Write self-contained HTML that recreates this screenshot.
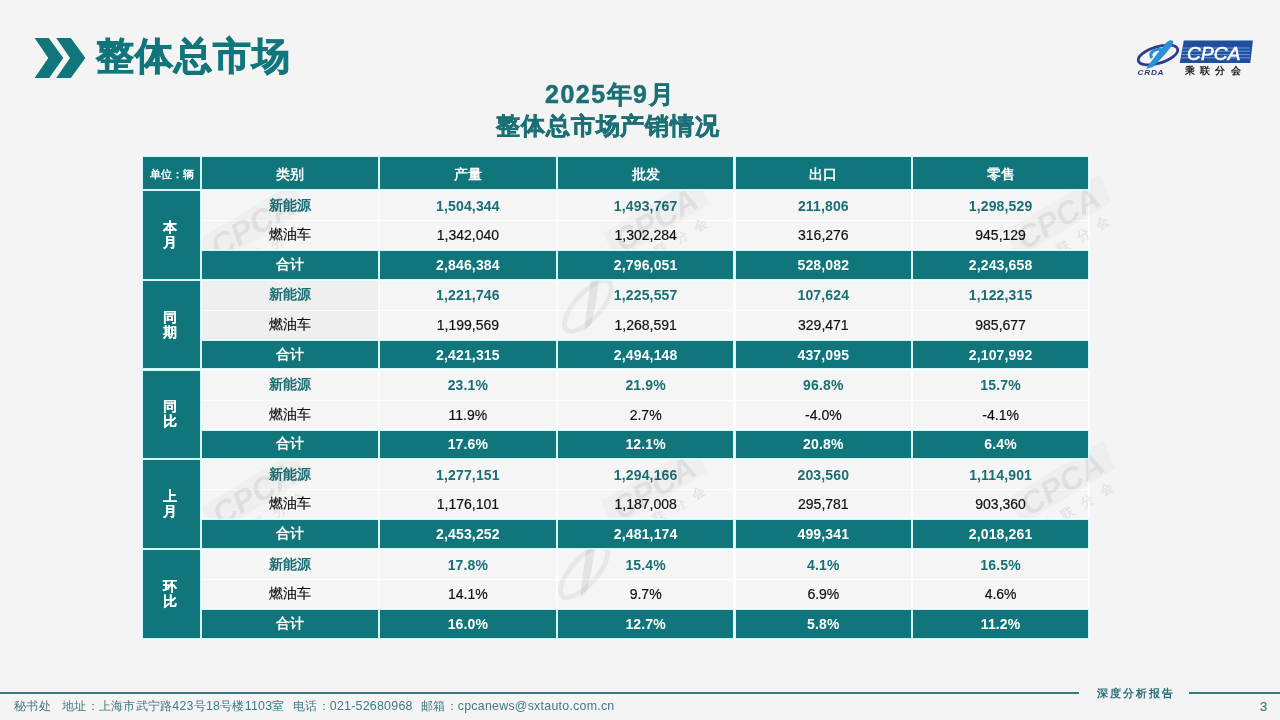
<!DOCTYPE html>
<html><head><meta charset="utf-8">
<style>
html,body{margin:0;padding:0;}
body{width:1280px;height:720px;position:relative;overflow:hidden;background:#f4f4f4;font-family:"Liberation Sans",sans-serif;}
.abs{position:absolute;white-space:nowrap;}
.tb{position:absolute;background:#fafefe;}
.th,.gl,.td{position:absolute;display:flex;align-items:center;justify-content:center;text-align:center;box-sizing:border-box;white-space:nowrap;}
.th,.gl,.r3{box-shadow:0 0 0 1.2px #d2f8f8;}
.th{background:#10767c;color:#fff;font-weight:bold;font-size:14px;padding-top:5px;}
.th.unit{font-size:11px;padding-top:3px;}
.gl{background:#10767c;color:#fff;font-weight:bold;font-size:14px;line-height:15px;padding-right:4px;text-shadow:0.5px 0 0 #fff;}
.td{font-size:14px;}
.r1{background:#f5f5f5;color:#1a6f75;font-weight:bold;letter-spacing:0.15px;}
.r2{background:#f5f5f5;color:#111;-webkit-text-stroke:0.2px #111;}
.r3{background:#10767c;color:#fff;font-weight:bold;letter-spacing:0.15px;}
.td.dk{background:#efefef;}
.wm{mix-blend-mode:multiply;pointer-events:none;}
.addr{top:697px;font-size:12.4px;letter-spacing:0.25px;color:#3f7a80;line-height:18px;}
</style></head><body>
<svg class="abs" style="left:0;top:0" width="100" height="100" viewBox="0 0 100 100">
<polygon fill="#10767c" points="34.6,38 48.8,38 63.3,58 49.2,78 34.6,78 48.3,58"/>
<polygon fill="#10767c" points="56.2,38 70.8,38 85.4,58 70.8,78 56.2,78 70,58"/>
</svg>
<div class="abs" style="left:96px;top:32px;font-size:38px;font-weight:bold;color:#10767c;line-height:48px;letter-spacing:1px;-webkit-text-stroke:0.9px #10767c;">整体总市场</div>
<div class="abs" style="left:510px;top:79px;width:200px;text-align:center;font-size:25px;font-weight:bold;color:#1b7076;line-height:30px;letter-spacing:1.5px;-webkit-text-stroke:0.5px #1b7076;">2025年9月</div>
<div class="abs" style="left:458px;top:110px;width:300px;text-align:center;font-size:24px;font-weight:bold;color:#1b7076;line-height:32px;letter-spacing:0.8px;-webkit-text-stroke:0.6px #1b7076;">整体总市场产销情况</div>
<svg class="abs" style="left:1130px;top:35px" width="130" height="45" viewBox="1130 35 130 45">
<defs><clipPath id="bn"><polygon points="1183.8,40.6 1252.9,40.6 1250.3,62.9 1179.7,62.9"/></clipPath></defs>
<polygon fill="#1f4f9c" points="1183.8,40.6 1252.9,40.6 1250.3,62.9 1179.7,62.9"/>
<g clip-path="url(#bn)" stroke="#6fa6e0" stroke-width="0.9">
<line x1="1175" y1="48" x2="1250" y2="48"/><line x1="1175" y1="51.2" x2="1250" y2="51.2"/><line x1="1175" y1="54.6" x2="1250" y2="54.6"/><line x1="1175" y1="57.8" x2="1250" y2="57.8"/>
</g>
<text x="1187" y="59.6" font-family="Liberation Sans" font-style="italic" font-size="19" fill="#fff" stroke="#fff" stroke-width="0.5" letter-spacing="0.2">CPCA</text>
<text x="1184.5" y="74.4" font-family="Liberation Sans" font-weight="bold" font-size="9.8" fill="#222" letter-spacing="5.4">乘联分会</text>
<ellipse cx="1158" cy="55" rx="20.5" ry="8.2" transform="rotate(-17 1158 55)" fill="none" stroke="#2d3f8e" stroke-width="2.8"/>
<path d="M1146,69 C1152,60 1160,50 1165,44 C1168,40 1174,38.5 1173,43 C1171,48 1163,57 1153,67 Z" fill="#2b8fd6"/>
<path d="M1152,58 C1148,53 1155,48.5 1161,49.5" fill="none" stroke="#2b8fd6" stroke-width="3"/>
<text x="1140" y="74.8" font-family="Liberation Sans" font-style="italic" font-weight="bold" font-size="7.2" fill="#2a3a7c" letter-spacing="0.6" transform="translate(1156 72) scale(1.15 1) translate(-1156 -72)">CRDA</text>
</svg>
<div class="tb" style="left:141.5px;top:155.5px;width:948px;height:484px"></div>
<div class="td r1" style="left:202.00px;top:191.10px;width:176.00px;height:29.00px">新能源</div>
<div class="td r1" style="left:380.00px;top:191.10px;width:175.80px;height:29.00px">1,504,344</div>
<div class="td r1" style="left:557.80px;top:191.10px;width:175.70px;height:29.00px">1,493,767</div>
<div class="td r1" style="left:735.50px;top:191.10px;width:175.70px;height:29.00px">211,806</div>
<div class="td r1" style="left:913.20px;top:191.10px;width:174.80px;height:29.00px">1,298,529</div>
<div class="td r2" style="left:202.00px;top:221.10px;width:176.00px;height:28.00px">燃油车</div>
<div class="td r2" style="left:380.00px;top:221.10px;width:175.80px;height:28.00px">1,342,040</div>
<div class="td r2" style="left:557.80px;top:221.10px;width:175.70px;height:28.00px">1,302,284</div>
<div class="td r2" style="left:735.50px;top:221.10px;width:175.70px;height:28.00px">316,276</div>
<div class="td r2" style="left:913.20px;top:221.10px;width:174.80px;height:28.00px">945,129</div>
<div class="td r1 dk" style="left:202.00px;top:280.85px;width:176.00px;height:29.00px">新能源</div>
<div class="td r1" style="left:380.00px;top:280.85px;width:175.80px;height:29.00px">1,221,746</div>
<div class="td r1" style="left:557.80px;top:280.85px;width:175.70px;height:29.00px">1,225,557</div>
<div class="td r1" style="left:735.50px;top:280.85px;width:175.70px;height:29.00px">107,624</div>
<div class="td r1" style="left:913.20px;top:280.85px;width:174.80px;height:29.00px">1,122,315</div>
<div class="td r2 dk" style="left:202.00px;top:310.85px;width:176.00px;height:28.00px">燃油车</div>
<div class="td r2" style="left:380.00px;top:310.85px;width:175.80px;height:28.00px">1,199,569</div>
<div class="td r2" style="left:557.80px;top:310.85px;width:175.70px;height:28.00px">1,268,591</div>
<div class="td r2" style="left:735.50px;top:310.85px;width:175.70px;height:28.00px">329,471</div>
<div class="td r2" style="left:913.20px;top:310.85px;width:174.80px;height:28.00px">985,677</div>
<div class="td r1" style="left:202.00px;top:370.60px;width:176.00px;height:29.00px">新能源</div>
<div class="td r1" style="left:380.00px;top:370.60px;width:175.80px;height:29.00px">23.1%</div>
<div class="td r1" style="left:557.80px;top:370.60px;width:175.70px;height:29.00px">21.9%</div>
<div class="td r1" style="left:735.50px;top:370.60px;width:175.70px;height:29.00px">96.8%</div>
<div class="td r1" style="left:913.20px;top:370.60px;width:174.80px;height:29.00px">15.7%</div>
<div class="td r2" style="left:202.00px;top:400.60px;width:176.00px;height:28.00px">燃油车</div>
<div class="td r2" style="left:380.00px;top:400.60px;width:175.80px;height:28.00px">11.9%</div>
<div class="td r2" style="left:557.80px;top:400.60px;width:175.70px;height:28.00px">2.7%</div>
<div class="td r2" style="left:735.50px;top:400.60px;width:175.70px;height:28.00px">-4.0%</div>
<div class="td r2" style="left:913.20px;top:400.60px;width:174.80px;height:28.00px">-4.1%</div>
<div class="td r1" style="left:202.00px;top:460.35px;width:176.00px;height:29.00px">新能源</div>
<div class="td r1" style="left:380.00px;top:460.35px;width:175.80px;height:29.00px">1,277,151</div>
<div class="td r1" style="left:557.80px;top:460.35px;width:175.70px;height:29.00px">1,294,166</div>
<div class="td r1" style="left:735.50px;top:460.35px;width:175.70px;height:29.00px">203,560</div>
<div class="td r1" style="left:913.20px;top:460.35px;width:174.80px;height:29.00px">1,114,901</div>
<div class="td r2" style="left:202.00px;top:490.35px;width:176.00px;height:28.00px">燃油车</div>
<div class="td r2" style="left:380.00px;top:490.35px;width:175.80px;height:28.00px">1,176,101</div>
<div class="td r2" style="left:557.80px;top:490.35px;width:175.70px;height:28.00px">1,187,008</div>
<div class="td r2" style="left:735.50px;top:490.35px;width:175.70px;height:28.00px">295,781</div>
<div class="td r2" style="left:913.20px;top:490.35px;width:174.80px;height:28.00px">903,360</div>
<div class="td r1" style="left:202.00px;top:550.10px;width:176.00px;height:29.00px">新能源</div>
<div class="td r1" style="left:380.00px;top:550.10px;width:175.80px;height:29.00px">17.8%</div>
<div class="td r1" style="left:557.80px;top:550.10px;width:175.70px;height:29.00px">15.4%</div>
<div class="td r1" style="left:735.50px;top:550.10px;width:175.70px;height:29.00px">4.1%</div>
<div class="td r1" style="left:913.20px;top:550.10px;width:174.80px;height:29.00px">16.5%</div>
<div class="td r2" style="left:202.00px;top:580.10px;width:176.00px;height:28.00px">燃油车</div>
<div class="td r2" style="left:380.00px;top:580.10px;width:175.80px;height:28.00px">14.1%</div>
<div class="td r2" style="left:557.80px;top:580.10px;width:175.70px;height:28.00px">9.7%</div>
<div class="td r2" style="left:735.50px;top:580.10px;width:175.70px;height:28.00px">6.9%</div>
<div class="td r2" style="left:913.20px;top:580.10px;width:174.80px;height:28.00px">4.6%</div>
<svg class="abs wm" style="left:0;top:0" width="1280" height="720" viewBox="0 0 1280 720"><g fill="#000" fill-opacity="0.07"><g transform="translate(252 226) rotate(-31)">
<polygon points="-52,-16 58,-16 54,14 -56,14" fill-opacity="0.025"/>
<text x="0" y="11" text-anchor="middle" font-family="Liberation Sans" font-style="italic" font-weight="bold" font-size="32">CPCA</text>
<text x="-40" y="32" font-family="Liberation Sans" font-weight="bold" font-size="13" letter-spacing="10">乘联分会</text>
</g><g transform="translate(656 220) rotate(-31)">
<polygon points="-52,-16 58,-16 54,14 -56,14" fill-opacity="0.025"/>
<text x="0" y="11" text-anchor="middle" font-family="Liberation Sans" font-style="italic" font-weight="bold" font-size="32">CPCA</text>
<text x="-40" y="32" font-family="Liberation Sans" font-weight="bold" font-size="13" letter-spacing="10">乘联分会</text>
</g><g transform="translate(1058 218) rotate(-31)">
<polygon points="-52,-16 58,-16 54,14 -56,14" fill-opacity="0.025"/>
<text x="0" y="11" text-anchor="middle" font-family="Liberation Sans" font-style="italic" font-weight="bold" font-size="32">CPCA</text>
<text x="-40" y="32" font-family="Liberation Sans" font-weight="bold" font-size="13" letter-spacing="10">乘联分会</text>
</g><g transform="translate(254 494) rotate(-31)">
<polygon points="-52,-16 58,-16 54,14 -56,14" fill-opacity="0.025"/>
<text x="0" y="11" text-anchor="middle" font-family="Liberation Sans" font-style="italic" font-weight="bold" font-size="32">CPCA</text>
<text x="-40" y="32" font-family="Liberation Sans" font-weight="bold" font-size="13" letter-spacing="10">乘联分会</text>
</g><g transform="translate(654 488) rotate(-31)">
<polygon points="-52,-16 58,-16 54,14 -56,14" fill-opacity="0.025"/>
<text x="0" y="11" text-anchor="middle" font-family="Liberation Sans" font-style="italic" font-weight="bold" font-size="32">CPCA</text>
<text x="-40" y="32" font-family="Liberation Sans" font-weight="bold" font-size="13" letter-spacing="10">乘联分会</text>
</g><g transform="translate(1062 484) rotate(-31)">
<polygon points="-52,-16 58,-16 54,14 -56,14" fill-opacity="0.025"/>
<text x="0" y="11" text-anchor="middle" font-family="Liberation Sans" font-style="italic" font-weight="bold" font-size="32">CPCA</text>
<text x="-40" y="32" font-family="Liberation Sans" font-weight="bold" font-size="13" letter-spacing="10">乘联分会</text>
</g><g transform="translate(588 306) rotate(-31)">
<ellipse cx="0" cy="0" rx="32" ry="13" transform="rotate(-17)" fill="none" stroke="#000" stroke-opacity="0.05" stroke-width="5"/>
<path d="M-16,20 C-8,8 4,-6 12,-16 C16,-22 24,-24 22,-17 C19,-10 8,2 -6,17 Z"/>
</g><g transform="translate(584 572) rotate(-31)">
<ellipse cx="0" cy="0" rx="32" ry="13" transform="rotate(-17)" fill="none" stroke="#000" stroke-opacity="0.05" stroke-width="5"/>
<path d="M-16,20 C-8,8 4,-6 12,-16 C16,-22 24,-24 22,-17 C19,-10 8,2 -6,17 Z"/>
</g></g></svg>
<div class="th unit" style="left:143.00px;top:157.00px;width:57.00px;height:31.80px">单位：辆</div>
<div class="th" style="left:202.00px;top:157.00px;width:176.00px;height:31.80px">类别</div>
<div class="th" style="left:380.00px;top:157.00px;width:175.80px;height:31.80px">产量</div>
<div class="th" style="left:557.80px;top:157.00px;width:175.70px;height:31.80px">批发</div>
<div class="th" style="left:735.50px;top:157.00px;width:175.70px;height:31.80px">出口</div>
<div class="th" style="left:913.20px;top:157.00px;width:174.80px;height:31.80px">零售</div>
<div class="gl" style="left:143.00px;top:191.10px;width:57.00px;height:87.50px">本<br>月</div>
<div class="td r3" style="left:202.00px;top:251.10px;width:176.00px;height:27.50px">合计</div>
<div class="td r3" style="left:380.00px;top:251.10px;width:175.80px;height:27.50px">2,846,384</div>
<div class="td r3" style="left:557.80px;top:251.10px;width:175.70px;height:27.50px">2,796,051</div>
<div class="td r3" style="left:735.50px;top:251.10px;width:175.70px;height:27.50px">528,082</div>
<div class="td r3" style="left:913.20px;top:251.10px;width:174.80px;height:27.50px">2,243,658</div>
<div class="gl" style="left:143.00px;top:280.85px;width:57.00px;height:87.50px">同<br>期</div>
<div class="td r3" style="left:202.00px;top:340.85px;width:176.00px;height:27.50px">合计</div>
<div class="td r3" style="left:380.00px;top:340.85px;width:175.80px;height:27.50px">2,421,315</div>
<div class="td r3" style="left:557.80px;top:340.85px;width:175.70px;height:27.50px">2,494,148</div>
<div class="td r3" style="left:735.50px;top:340.85px;width:175.70px;height:27.50px">437,095</div>
<div class="td r3" style="left:913.20px;top:340.85px;width:174.80px;height:27.50px">2,107,992</div>
<div class="gl" style="left:143.00px;top:370.60px;width:57.00px;height:87.50px">同<br>比</div>
<div class="td r3" style="left:202.00px;top:430.60px;width:176.00px;height:27.50px">合计</div>
<div class="td r3" style="left:380.00px;top:430.60px;width:175.80px;height:27.50px">17.6%</div>
<div class="td r3" style="left:557.80px;top:430.60px;width:175.70px;height:27.50px">12.1%</div>
<div class="td r3" style="left:735.50px;top:430.60px;width:175.70px;height:27.50px">20.8%</div>
<div class="td r3" style="left:913.20px;top:430.60px;width:174.80px;height:27.50px">6.4%</div>
<div class="gl" style="left:143.00px;top:460.35px;width:57.00px;height:87.50px">上<br>月</div>
<div class="td r3" style="left:202.00px;top:520.35px;width:176.00px;height:27.50px">合计</div>
<div class="td r3" style="left:380.00px;top:520.35px;width:175.80px;height:27.50px">2,453,252</div>
<div class="td r3" style="left:557.80px;top:520.35px;width:175.70px;height:27.50px">2,481,174</div>
<div class="td r3" style="left:735.50px;top:520.35px;width:175.70px;height:27.50px">499,341</div>
<div class="td r3" style="left:913.20px;top:520.35px;width:174.80px;height:27.50px">2,018,261</div>
<div class="gl" style="left:143.00px;top:550.10px;width:57.00px;height:87.50px">环<br>比</div>
<div class="td r3" style="left:202.00px;top:610.10px;width:176.00px;height:27.50px">合计</div>
<div class="td r3" style="left:380.00px;top:610.10px;width:175.80px;height:27.50px">16.0%</div>
<div class="td r3" style="left:557.80px;top:610.10px;width:175.70px;height:27.50px">12.7%</div>
<div class="td r3" style="left:735.50px;top:610.10px;width:175.70px;height:27.50px">5.8%</div>
<div class="td r3" style="left:913.20px;top:610.10px;width:174.80px;height:27.50px">11.2%</div>
<div class="abs" style="left:0;top:691.5px;width:1079px;height:2px;background:#3a7a80;"></div>
<div class="abs" style="left:1189px;top:691.7px;width:91px;height:2px;background:#3a7a80;"></div>
<div class="abs" style="left:1097px;top:685px;font-size:10.5px;letter-spacing:2px;color:#2b6f78;font-weight:bold;line-height:16px;">深度分析报告</div>
<div class="abs" style="left:1260px;top:699px;font-size:13px;color:#3a7d84;line-height:16px;-webkit-text-stroke:0.2px #3a7d84;">3</div>
<div class="abs addr" style="left:14px;">秘书处</div>
<div class="abs addr" style="left:62px;">地址：上海市武宁路423号18号楼1103室</div>
<div class="abs addr" style="left:293px;">电话：021-52680968</div>
<div class="abs addr" style="left:421px;">邮箱：cpcanews@sxtauto.com.cn</div>
</body></html>
